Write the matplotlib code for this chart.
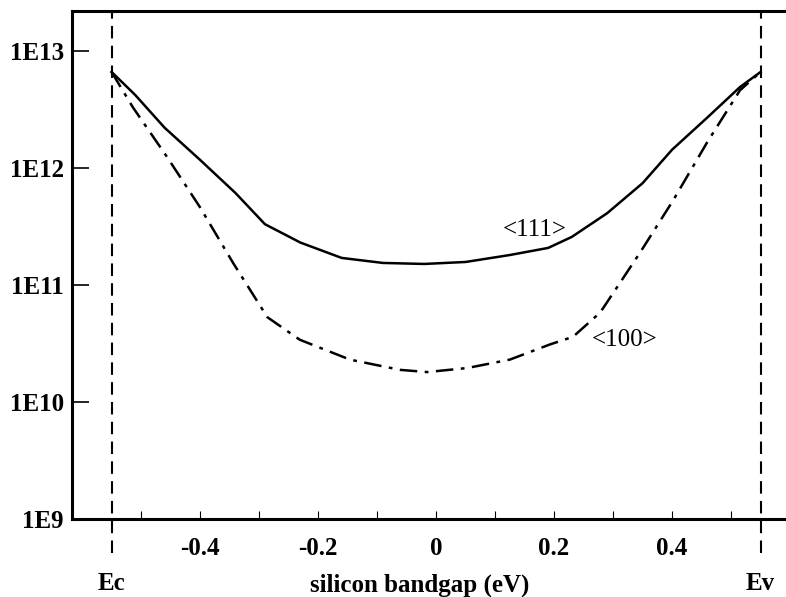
import matplotlib
matplotlib.use("Agg")
import matplotlib.pyplot as plt
import matplotlib.transforms as mtransforms

plt.rcParams['font.family'] = ['Liberation Serif', 'DejaVu Serif']

# <111> curve (solid)
x111 = [-0.55, -0.51, -0.46, -0.40, -0.34, -0.29, -0.23, -0.16, -0.09, -0.02,
        0.05, 0.125, 0.19, 0.23, 0.29, 0.35, 0.40, 0.46, 0.515, 0.55]
y111 = [6.6e12, 4.2e12, 2.2e12, 1.17e12, 6.1e11, 3.3e11, 2.3e11, 1.7e11, 1.54e11, 1.51e11,
        1.57e11, 1.8e11, 2.07e11, 2.57e11, 4.1e11, 7.4e11, 1.43e12, 2.7e12, 4.9e12, 6.6e12]

# <100> curve (dash-dot)
x100 = [-0.55, -0.514, -0.456, -0.40, -0.344, -0.286, -0.231, -0.146, -0.061, -0.015,
        0.053, 0.125, 0.193, 0.232, 0.278, 0.307, 0.346, 0.402, 0.459, 0.515, 0.55]
y100 = [6.6e12, 3.3e12, 1.24e12, 4.6e11, 1.54e11, 5.3e10, 3.4e10, 2.3e10, 1.88e10, 1.8e10,
        1.95e10, 2.3e10, 3.1e10, 3.6e10, 5.8e10, 9.6e10, 1.9e11, 5.3e11, 1.64e12, 4.6e12, 6.6e12]

band_edges = [-0.55, 0.55]
edge_names = ["Ec", "Ev"]

xticks = [-0.5, -0.4, -0.3, -0.2, -0.1, 0, 0.1, 0.2, 0.3, 0.4, 0.5]
xtick_labels = ["", "-0.4", "", "-0.2", "", "0", "", "0.2", "", "0.4", ""]
yticks = [1e9, 1e10, 1e11, 1e12, 1e13]
ytick_labels = ["1E9", "1E10", "1E11", "1E12", "1E13"]

W, H = 786, 597
fig = plt.figure(figsize=(W / 100, H / 100), dpi=100)
ax = fig.add_axes([72 / W, (H - 519) / H, (W - 72) / W, (519 - 11) / H])

ax.set_yscale('log')
ax.set_xlim(-0.617, 0.593)
ax.set_ylim(1e9, 10 ** 13.34)

ax.plot(x111, y111, color='black', lw=1.8)
ax.plot(x100, y100, color='black', lw=1.8, linestyle=(0, (7, 3, 1.5, 3)))

trans = mtransforms.blended_transform_factory(ax.transData, ax.transAxes)
for xe, name in zip(band_edges, edge_names):
    ax.plot([xe, xe], [-0.067, 1.0], transform=trans, color='black', lw=1.5,
            linestyle=(0, (6, 3.5)), clip_on=False)
    ax.text(xe, -0.126, name, transform=trans, ha='center', va='center',
            fontsize=18, fontweight='bold')

ax.text(0.168, 2.95e11, "<111>", fontsize=18, ha='center', va='center')
ax.text(0.32, 3.4e10, "<100>", fontsize=18, ha='center', va='center')

ax.set_yticks(yticks)
ax.set_yticklabels(ytick_labels)
ax.minorticks_off()
ax.set_xticks(xticks)
ax.set_xticklabels(xtick_labels)
ax.set_xticks([0], minor=True)

ax.tick_params(axis='y', which='major', direction='in', length=12, width=1.2,
               pad=6, labelsize=18)
ax.tick_params(axis='x', which='major', direction='in', length=6, width=0.8,
               pad=13, labelsize=18)
ax.tick_params(axis='x', which='minor', direction='in', length=13, width=0.8)
for lab in ax.get_xticklabels() + ax.get_yticklabels():
    lab.set_fontweight('bold')

ax.text((420 - 72) / (W - 72), -0.13, "silicon bandgap (eV)", transform=ax.transAxes,
        fontsize=18, fontweight='bold', ha='center', va='center')

for side in ['left', 'bottom', 'top']:
    ax.spines[side].set_linewidth(2.2)
ax.spines['right'].set_visible(False)

fig.savefig("out.png", dpi=100)
